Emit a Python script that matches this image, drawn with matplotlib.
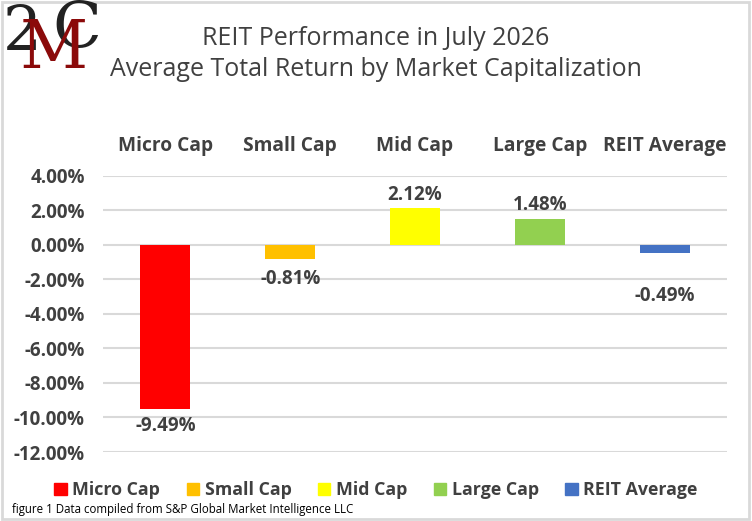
import numpy as np
import matplotlib.pyplot as plt
from matplotlib.patches import Rectangle

# данные
categories = ["Micro Cap", "Small Cap", "Mid Cap", "Large Cap", "REIT Average"]
returns = [-9.49, -0.81, 2.12, 1.48, -0.49]
colors = ["#FF0000", "#FFC000", "#FFFF00", "#92D050", "#4472C4"]
yticks = [4, 2, 0, -2, -4, -6, -8, -10, -12]
label_gap = [17, 20, 13, 14, 43]  # отступ подписи от конца столбца, px

title = "REIT Performance in July 2026\nAverage Total Return by Market Capitalization"
note = "figure 1 Data compiled from S&P Global Market Intelligence LLC"

plt.rcParams['font.family'] = ['Open Sans', 'DejaVu Sans']
txt = "#404040"

fig = plt.figure(figsize=(7.52, 5.21), dpi=100)
ax = fig.add_axes([103 / 752, 1 - 452 / 521, 624 / 752, (452 - 175.5) / 521])

x = np.arange(len(categories))
bars = ax.bar(x, returns, width=0.4, color=colors, zorder=3)

ax.set_xlim(-0.5, len(categories) - 0.5)
ax.set_ylim(-12, 4)
ax.set_yticks(yticks)
ax.set_yticklabels([f"{v:.2f}%" for v in yticks], fontsize=13.5, fontweight='bold', color=txt)
ax.yaxis.grid(True, color="#D9D9D9", linewidth=1.5, zorder=0)
ax.tick_params(axis='y', length=0, pad=13)

ax.xaxis.tick_top()
ax.set_xticks(x)
ax.set_xticklabels(categories, fontsize=13.8, fontweight='bold', color=txt)
ax.tick_params(axis='x', length=0, pad=14)

for s in ax.spines.values():
    s.set_visible(False)

# подписи значений
for xi, v, g in zip(x, returns, label_gap):
    off = g if v > 0 else -g
    ax.annotate(f"{v:.2f}%", (xi, v), xytext=(0, off), textcoords='offset pixels',
                ha='center', va='center', fontsize=13.5, fontweight='bold', color=txt)

# легенда
handles = [Rectangle((0, 0), 1, 1, color=c) for c in colors]
fig.legend(handles, categories, loc='center', bbox_to_anchor=(0.5, 1 - 490 / 521),
           ncol=5, frameon=False, handlelength=0.7, handleheight=0.7,
           handletextpad=0.3, columnspacing=1.5,
           prop={'weight': 'bold', 'size': 12.8})
for t in fig.legends[0].get_texts():
    t.set_color(txt)

fig.text(0.5, 1 - 54 / 521, title, ha='center', va='center', fontsize=18,
         color=txt, linespacing=1.3)
fig.text(12 / 752, 1 - 510 / 521, note, ha='left', va='center', fontsize=8.3, color='black')

# логотип 2MC
fig.text(3 / 752, 1 - 33 / 521, "2", fontsize=44, family='DejaVu Serif', color='#222222',
         ha='left', va='center')
fig.text(54 / 752, 1 - 49 / 521, "M", fontsize=48, family='DejaVu Serif', color='#8B0A0A',
         ha='center', va='center')
fig.text(52 / 752, 1 - 30 / 521, "C", fontsize=46, family='DejaVu Serif', color='#222222',
         ha='left', va='center', zorder=1)

# рамка
fig.patches.append(Rectangle((0.002, 0.003), 0.994, 0.994, transform=fig.transFigure,
                             fill=False, edgecolor='#D9D9D9', linewidth=2))

fig.savefig("out.png", dpi=100)
